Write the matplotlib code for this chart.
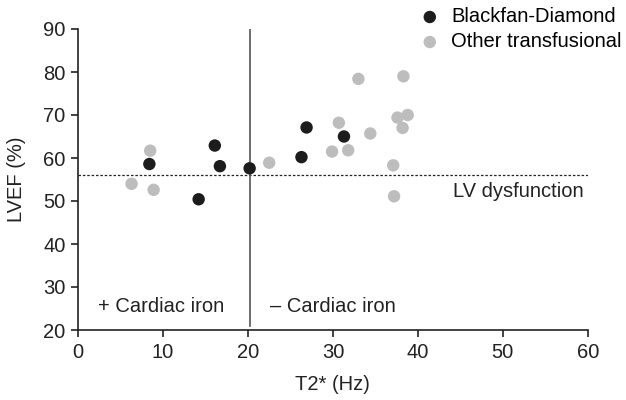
import matplotlib as mpl
mpl.use('Agg')
import matplotlib.pyplot as plt

plt.rcParams['font.family'] = ['Liberation Sans', 'DejaVu Sans']

# Blackfan-Diamond patients
bd_t2 = [8.4, 16.1, 16.7, 14.2, 20.2, 26.3, 26.9, 31.3]
bd_lvef = [58.6, 62.9, 58.1, 50.4, 57.6, 60.2, 67.1, 65.0]

# other transfusional patients
ot_t2 = [6.3, 8.5, 8.9, 22.5, 29.9, 30.7, 31.8, 33.0, 34.4, 37.1, 37.2, 37.6, 38.2, 38.3, 38.8]
ot_lvef = [54.0, 61.7, 52.6, 58.9, 61.5, 68.2, 61.8, 78.4, 65.7, 58.3, 51.1, 69.4, 67.0, 79.0, 70.0]

lv_cutoff = 56
iron_cutoff = 20.2

FS = 14.5
fig = plt.figure(figsize=(6.26, 4.0), dpi=100)
ax = fig.add_axes([0.1246, 0.175, 0.8144, 0.7525])

ax.axhline(lv_cutoff, color='#222222', lw=0.9, ls=(0, (2, 1.5)), zorder=1)
ax.plot([iron_cutoff, iron_cutoff], [20.85, 90], color='#555555', lw=1.2, zorder=1)

ax.scatter(bd_t2, bd_lvef, s=80, color='#1c1c1c', edgecolors='none', zorder=3, label='Blackfan-Diamond')
ax.scatter(ot_t2, ot_lvef, s=80, color='#bdbdbd', edgecolors='none', zorder=2, label='Other transfusional')

ax.text(59.5, 52.3, 'LV dysfunction', ha='right', va='center', fontsize=FS, color='#222222')
ax.text(2.4, 25.4, '+ Cardiac iron', ha='left', va='center', fontsize=FS, color='#222222')
ax.text(22.6, 25.4, '\u2013 Cardiac iron', ha='left', va='center', fontsize=FS, color='#222222')

ax.set_xlim(0, 60)
ax.set_ylim(20, 90)
ax.set_xticks(range(0, 61, 10))
ax.set_yticks(range(20, 91, 10))
ax.spines['top'].set_visible(False)
ax.spines['right'].set_visible(False)
for s in ['left', 'bottom']:
    ax.spines[s].set_linewidth(1.2)
    ax.spines[s].set_color('#222222')
ax.tick_params(direction='out', length=5, width=1.2, labelsize=FS, colors='#222222', pad=4)
ax.set_xlabel('T2* (Hz)', fontsize=FS, color='#222222', labelpad=10)
ax.set_ylabel('LVEF (%)', fontsize=FS, color='#222222', labelpad=12)

fig.legend(loc='upper right', bbox_to_anchor=(1.012, 1.012), frameon=False, fontsize=FS,
           handletextpad=0.05, labelspacing=0.3, borderaxespad=0.2, markerscale=1.0)

plt.savefig('out.png', dpi=100)
